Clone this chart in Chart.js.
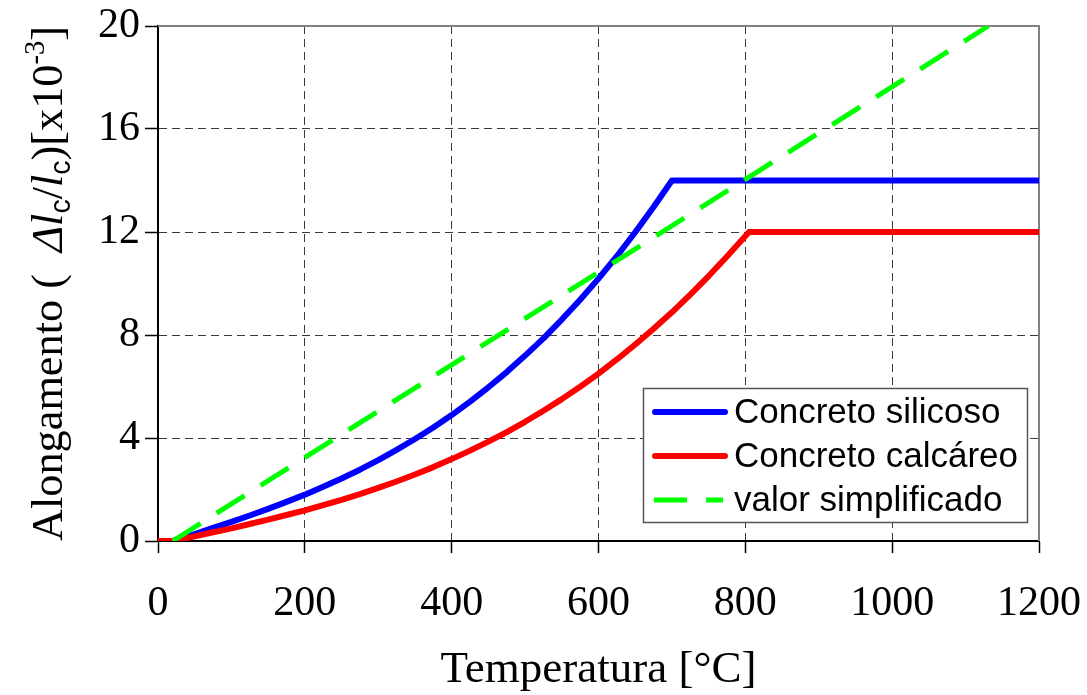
<!DOCTYPE html>
<html><head><meta charset="utf-8">
<script src="https://cdn.jsdelivr.net/npm/chart.js@4.4.1/dist/chart.umd.min.js"></script>
<style>html,body{margin:0;padding:0;background:#fff;overflow:hidden}#wrap{width:1087px;height:695px;position:relative}</style>
</head><body><div id="wrap"><canvas id="c" width="1087" height="695"></canvas></div>
<script>
// ---- data ----
const xTickValues = [0, 200, 400, 600, 800, 1000, 1200];
const yTickValues = [0, 4, 8, 12, 16, 20];
const seriesLabels = ['Concreto silicoso', 'Concreto calcáreo', 'valor simplificado'];
const xTitleText = 'Temperatura [°C]';

const silicosoT = [0, 20, 25, 50, 75, 100, 125, 150, 175, 200, 225, 250, 275, 300, 325, 350, 375, 400, 425, 450, 475, 500, 525, 550, 575, 600, 625, 650, 675, 700, 1200];
const silicosoV = [0, 0, 0.05, 0.27, 0.51, 0.74, 0.99, 1.25, 1.52, 1.80, 2.11, 2.43, 2.77, 3.14, 3.54, 3.96, 4.41, 4.89, 5.41, 5.97, 6.56, 7.20, 7.87, 8.60, 9.37, 10.19, 11.06, 11.99, 12.97, 14.0, 14.0];

const calcareoT = [0, 20, 25, 50, 75, 100, 125, 150, 175, 200, 225, 250, 275, 300, 325, 350, 375, 400, 425, 450, 475, 500, 525, 550, 575, 600, 625, 650, 675, 700, 725, 750, 775, 805, 1200];
const calcareoV = [0, 0, 0.03, 0.18, 0.34, 0.49, 0.66, 0.83, 1.01, 1.19, 1.39, 1.60, 1.82, 2.06, 2.31, 2.58, 2.87, 3.18, 3.51, 3.86, 4.23, 4.63, 5.06, 5.51, 5.99, 6.50, 7.05, 7.63, 8.24, 8.88, 9.57, 10.29, 11.05, 12.0, 12.0];

const simplesT = [20, 1131];
const simplesV = [0, 20];

// ---- helpers ----
const serif = '"Liberation Serif", "Times New Roman", serif';
const sans = '"Liberation Sans", Arial, sans-serif';
const pts = (xs, ys) => xs.map((x, i) => ({x: x, y: ys[i]}));

const frameAndLabels = {
  id: 'frameAndLabels',
  beforeDatasetsDraw(chart) {
    const ctx = chart.ctx, a = chart.chartArea;
    ctx.save();
    ctx.strokeStyle = '#808080';
    ctx.lineWidth = 2;
    ctx.beginPath();
    ctx.moveTo(a.left, a.top);
    ctx.lineTo(a.right, a.top);
    ctx.lineTo(a.right, a.bottom);
    ctx.stroke();
    ctx.restore();
  },
  afterDraw(chart) {
    const ctx = chart.ctx, a = chart.chartArea;
    // y-axis title with italic, subscript and superscript pieces
    const parts = [
      {t: 'Alongamento (  ', f: '45px ' + serif, dy: 0},
      {t: 'Δl', f: 'italic 45px ' + serif, dy: 0},
      {t: 'c', f: '29px ' + sans, dy: 8},
      {t: '/', f: '45px ' + serif, dy: 0},
      {t: 'l', f: 'italic 45px ' + serif, dy: 0},
      {t: 'c', f: '29px ' + sans, dy: 8},
      {t: ')[x10', f: '45px ' + serif, dy: 0},
      {t: '-3', f: '29px ' + serif, dy: -18},
      {t: ']', f: '45px ' + serif, dy: 0}
    ];
    let w = 0;
    parts.forEach(p => { ctx.font = p.f; p.w = ctx.measureText(p.t).width; w += p.w; });
    ctx.save();
    ctx.fillStyle = '#000';
    ctx.textBaseline = 'alphabetic';
    ctx.translate(62, (a.top + a.bottom) / 2);
    ctx.rotate(-Math.PI / 2);
    const target = 515;
    ctx.scale(target / w, 1);
    let x = -w / 2;
    parts.forEach(p => { ctx.font = p.f; ctx.fillText(p.t, x, p.dy); x += p.w; });
    ctx.restore();

    // legend box inside plot area
    const bx = a.right - 396, by = a.bottom - 153, bw = 384, bh = 134;
    ctx.save();
    ctx.fillStyle = '#fff';
    ctx.fillRect(bx, by, bw, bh);
    ctx.strokeStyle = '#555';
    ctx.lineWidth = 1.5;
    ctx.strokeRect(bx + 0.5, by + 0.5, bw, bh);
    const rows = [24, 68, 112];
    chart.data.datasets.forEach((ds, i) => {
      const y = by + rows[i];
      ctx.strokeStyle = ds.borderColor;
      ctx.lineWidth = ds.borderWidth;
      ctx.setLineDash(ds.borderDash || []);
      ctx.lineCap = ds.borderDash ? 'butt' : 'round';
      ctx.beginPath();
      ctx.moveTo(bx + (ds.borderDash ? 11 : 12), y);
      ctx.lineTo(bx + (ds.borderDash ? 80 : 82), y);
      ctx.stroke();
      ctx.setLineDash([]);
      ctx.fillStyle = '#000';
      ctx.font = '35px ' + sans;
      ctx.textBaseline = 'middle';
      ctx.fillText(ds.label, bx + 91, y + 1);
    });
    ctx.restore();
  }
};

new Chart(document.getElementById('c'), {
  type: 'line',
  data: {
    datasets: [
      {label: seriesLabels[0], data: pts(silicosoT, silicosoV), borderColor: '#0000FF', borderWidth: 6, pointRadius: 0, tension: 0, fill: false, order: 2, borderJoinStyle: 'round'},
      {label: seriesLabels[1], data: pts(calcareoT, calcareoV), borderColor: '#FF0000', borderWidth: 6, pointRadius: 0, tension: 0, fill: false, order: 1, borderJoinStyle: 'round'},
      {label: seriesLabels[2], data: pts(simplesT, simplesV), borderColor: '#00FF00', borderWidth: 5, borderDash: [33, 19], pointRadius: 0, tension: 0, fill: false, order: 0}
    ]
  },
  options: {
    responsive: false,
    animation: false,
    devicePixelRatio: 1,
    layout: {padding: {top: 26, right: 48, left: 0, bottom: 0}},
    plugins: {legend: {display: false}, tooltip: {enabled: false}},
    scales: {
      x: {
        type: 'linear', min: 0, max: 1200,
        afterBuildTicks: s => { s.ticks = xTickValues.map(v => ({value: v})); },
        afterFit: s => { s.height = 154; },
        ticks: {color: '#000', font: {family: serif, size: 42, lineHeight: 2.24}, padding: 4, maxRotation: 0, autoSkip: false, callback: v => String(v)},
        grid: {color: '#3a3a3a', lineWidth: 1, tickLength: 12, tickColor: '#000', tickWidth: 1.5},
        border: {display: true, color: '#000', width: 2, dash: [8, 5]},
        title: {display: true, text: xTitleText, color: '#000', font: {family: serif, size: 45}, padding: {top: 0, bottom: -2}}
      },
      y: {
        type: 'linear', min: 0, max: 20,
        afterBuildTicks: s => { s.ticks = yTickValues.map(v => ({value: v})); },
        afterFit: s => { s.width = 158; },
        ticks: {color: '#000', font: {family: serif, size: 42, lineHeight: 1}, padding: 5, autoSkip: false, callback: v => String(v)},
        grid: {color: '#3a3a3a', lineWidth: 1, tickLength: 13, tickColor: '#000', tickWidth: 1.5},
        border: {display: true, color: '#000', width: 2, dash: [8, 5]}
      }
    }
  },
  plugins: [frameAndLabels]
});
</script>
</body></html>
